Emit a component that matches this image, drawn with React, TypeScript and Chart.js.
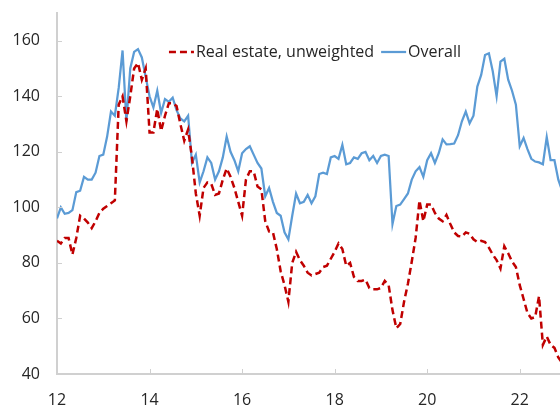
import React, { useEffect, useRef } from 'react';
import { Chart, registerables } from 'chart.js';

Chart.register(...registerables);

// Monthly observations starting January 2012 (x axis in two-digit years)
const startYear = 12;
const xTickValues = [12, 14, 16, 18, 20, 22];
const yTickValues = [40, 60, 80, 100, 120, 140, 160];
const seriesLabels = ['Real estate, unweighted', 'Overall'];

const realEstate = [
  88, 87, 89, 89, 83, 89, 97, 96, 94.5, 92.5, 95, 98,
  99.5, 100.5, 101.5, 102.5, 137, 140, 131, 140, 150, 152, 146, 150,
  127, 127, 135.5, 127.5, 133, 137.5, 137.5, 136.5, 130, 124, 128, 118,
  105, 97, 107, 109, 108.5, 104.5, 105, 110, 114, 111, 107, 102,
  97, 110, 113, 113, 107.5, 106.5, 95, 91.3, 91, 85, 77, 72,
  66, 80, 84, 81, 79, 76.5, 75.5, 76, 76.5, 78.5, 79, 81.5,
  84, 87, 85, 79, 80, 75, 73.5, 73.5, 74, 71, 70.5, 70.5,
  71, 73.5, 72, 63, 56.5, 58, 66, 72.5, 80.5, 89, 102.5, 95,
  101, 101, 98, 96, 95, 97.3, 94, 91, 89.7, 89.5, 91, 90.5,
  88.5, 87.5, 88, 87.5, 85.5, 83, 81, 78, 86, 83.5, 80.5, 78.5,
  72, 67, 62, 60, 60.5, 68, 50.5, 53.5, 50.5, 49.4, 46, 44,
];

const overall = [
  96, 100, 97.7, 98, 99, 105.5, 106, 111, 110, 110, 112.5, 118.5,
  119, 125.5, 134.5, 133, 143, 156.5, 131, 150, 156, 157, 154, 147,
  140, 136, 142, 134, 139, 138, 139.5, 135, 132, 131, 133, 116,
  119, 109, 113, 118, 116, 110, 113, 118, 125.5, 120, 117, 113,
  119.5, 121, 122, 119, 116, 114, 104, 107, 102, 98, 97, 91,
  88.5, 97, 105, 101.5, 102, 104.5, 101.5, 104, 112, 112.5, 112, 118,
  118.5, 117.5, 122.5, 115.5, 116, 118, 117.5, 119.5, 120, 117, 118.5, 116,
  118.5, 119, 118.5, 94, 100.5, 101, 103, 105, 110, 113, 114.5, 111,
  117, 119.5, 116, 119.5, 124.5, 122.7, 122.8, 123, 126, 131, 134.5, 130.3,
  133, 143.5, 147.7, 154.9, 155.5, 149, 140, 152.5, 153.5, 146, 142, 137,
  122, 125, 121, 117.5, 116.5, 116.2, 115.5, 125.3, 117, 117, 110, 106,
];

const toPoints = (vals: number[]) => vals.map((v, i) => ({ x: startYear + i / 12, y: v }));

const FONT = "'Open Sans', 'Noto Sans', sans-serif";

const insideLegend = {
  id: 'insideLegend',
  afterDraw(chart: any, _args: any, opts: any) {
    const ctx = chart.ctx;
    ctx.save();
    ctx.font = `${opts.size}px ${FONT}`;
    const items = chart.data.datasets.map((ds: any) => ({
      label: ds.label,
      color: ds.borderColor,
      dash: ds.borderDash || [],
      width: ds.borderWidth,
    }));
    const sampleW = opts.sampleWidth;
    const gap = opts.gap;
    const spacing = opts.spacing;
    let total = 0;
    items.forEach((it: any, i: number) => {
      total += sampleW + gap + ctx.measureText(it.label).width + (i < items.length - 1 ? spacing : 0);
    });
    let x = opts.centerX - total / 2;
    const y = opts.y;
    items.forEach((it: any) => {
      ctx.beginPath();
      ctx.setLineDash(it.dash);
      ctx.strokeStyle = it.color;
      ctx.lineWidth = it.width;
      ctx.moveTo(x, y);
      ctx.lineTo(x + sampleW, y);
      ctx.stroke();
      ctx.setLineDash([]);
      x += sampleW + gap;
      ctx.fillStyle = opts.color;
      ctx.textBaseline = 'middle';
      ctx.textAlign = 'left';
      ctx.fillText(it.label, x, y);
      x += ctx.measureText(it.label).width + spacing;
    });
    ctx.restore();
  },
};

const innerTicks = {
  id: 'innerTicks',
  afterDraw(chart: any, _args: any, opts: any) {
    const { ctx, chartArea, scales } = chart;
    ctx.save();
    ctx.strokeStyle = opts.color;
    ctx.lineWidth = opts.width;
    scales.y.ticks.forEach((t: any) => {
      const y = Math.round(scales.y.getPixelForValue(t.value)) + 0.5;
      ctx.beginPath();
      ctx.moveTo(chartArea.left, y);
      ctx.lineTo(chartArea.left + opts.length, y);
      ctx.stroke();
    });
    scales.x.ticks.forEach((t: any) => {
      const x = Math.round(scales.x.getPixelForValue(t.value)) + 0.5;
      ctx.beginPath();
      ctx.moveTo(x, chartArea.bottom);
      ctx.lineTo(x, chartArea.bottom - opts.length);
      ctx.stroke();
    });
    ctx.restore();
  },
};

export default function App() {
  const canvasRef = useRef<HTMLCanvasElement | null>(null);

  useEffect(() => {
    document.body.style.margin = '0';
    const canvas = canvasRef.current;
    if (!canvas) return;
    const chart = new Chart(canvas, {
      type: 'line',
      data: {
        datasets: [
          {
            label: seriesLabels[0],
            data: toPoints(realEstate),
            borderColor: '#C00000',
            borderWidth: 2.5,
            borderDash: [7, 4],
            pointRadius: 0,
            tension: 0,
            fill: false,
          },
          {
            label: seriesLabels[1],
            data: toPoints(overall),
            borderColor: '#5B9BD5',
            borderWidth: 2.25,
            pointRadius: 0,
            tension: 0,
            fill: false,
          },
        ],
      },
      options: {
        responsive: false,
        animation: false,
        devicePixelRatio: 1,
        layout: { padding: { top: 13, right: 0, left: 0, bottom: 0 } },
        plugins: {
          legend: { display: false },
          tooltip: { enabled: false },
          insideLegend: { size: 16, color: '#262626', centerX: 315, y: 52, sampleWidth: 25, gap: 2, spacing: 7 },
          innerTicks: { color: '#D0D0D0', width: 1, length: 5 },
        } as any,
        scales: {
          x: {
            type: 'linear',
            min: 12,
            max: 22.87,
            afterBuildTicks: (scale: any) => {
              scale.ticks = xTickValues.map((v) => ({ value: v }));
            },
            afterFit: (scale: any) => {
              scale.height = 33;
              scale.paddingLeft = 0;
              scale.paddingRight = 0;
            },
            grid: { display: false, drawTicks: false },
            border: { display: true, color: '#D0D0D0', width: 2 },
            ticks: {
              padding: 17,
              color: '#262626',
              font: { family: FONT, size: 16 },
              maxRotation: 0,
              callback: (v: any) => String(v),
            },
          },
          y: {
            type: 'linear',
            min: 40,
            max: 170,
            afterBuildTicks: (scale: any) => {
              scale.ticks = yTickValues.map((v) => ({ value: v }));
            },
            afterFit: (scale: any) => {
              scale.width = 57;
              scale.paddingTop = 0;
              scale.paddingBottom = 0;
            },
            grid: { display: false, drawTicks: false },
            border: { display: true, color: '#D0D0D0', width: 2 },
            ticks: {
              padding: 17,
              color: '#262626',
              font: { family: FONT, size: 16 },
              callback: (v: any) => String(v),
            },
          },
        },
      },
      plugins: [insideLegend, innerTicks],
    });
    return () => chart.destroy();
  }, []);

  return (
    <div style={{ width: 560, height: 407 }}>
      <canvas ref={canvasRef} width={560} height={407} style={{ display: 'block' }} />
    </div>
  );
}
